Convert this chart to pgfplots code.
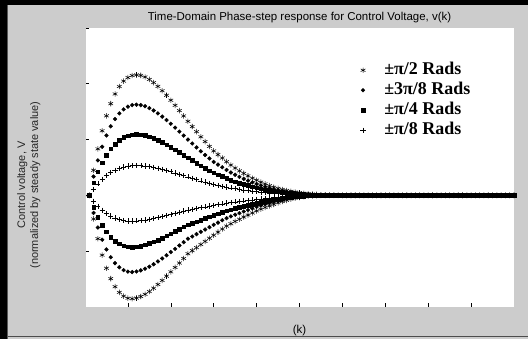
\documentclass[border=0pt]{standalone}
\usepackage{pgfplots}
\pgfplotsset{compat=1.18}
\usepackage{pgfplotstable}
\usepackage{fontspec}
\setmainfont{Liberation Sans}
\newfontfamily\legfont{Liberation Serif}

\pgfplotstableread{
k su cu qu pu sl cl ql pl
1 1 1 1 1 1 1 1 1
2 1.00225 1.00169 1.00114 1.00056 0.99789 0.99843 0.99894 0.99948
3 1.00417 1.00314 1.00211 1.00104 0.99612 0.99712 0.99806 0.99904
4 1.00579 1.00436 1.00293 1.00144 0.99465 0.99603 0.99733 0.99867
5 1.00713 1.00537 1.00361 1.00178 0.99347 0.99516 0.99674 0.99838
6 1.00822 1.00619 1.00417 1.00205 0.99254 0.99446 0.99627 0.99815
7 1.00909 1.00684 1.00461 1.00226 0.99182 0.99393 0.99591 0.99797
8 1.00976 1.00735 1.00494 1.00243 0.99131 0.99356 0.99566 0.99784
9 1.01024 1.00771 1.00519 1.00255 0.99097 0.99330 0.99549 0.99776
10 1.01056 1.00795 1.00535 1.00263 0.99079 0.99317 0.99539 0.99771
11 1.01074 1.00809 1.00544 1.00268 0.99074 0.99313 0.99537 0.99770
12 1.01080 1.00813 1.00547 1.00269 0.99080 0.99318 0.99540 0.99772
13 1.01075 1.00809 1.00545 1.00268 0.99094 0.99328 0.99547 0.99775
14 1.01061 1.00799 1.00537 1.00264 0.99114 0.99343 0.99557 0.99780
15 1.01039 1.00782 1.00526 1.00259 0.99139 0.99361 0.99569 0.99786
16 1.01011 1.00761 1.00512 1.00252 0.99168 0.99383 0.99584 0.99793
17 1.00977 1.00735 1.00495 1.00243 0.99202 0.99408 0.99601 0.99802
18 1.00938 1.00706 1.00475 1.00234 0.99238 0.99435 0.99619 0.99811
19 1.00897 1.00675 1.00454 1.00223 0.99276 0.99463 0.99638 0.99820
20 1.00853 1.00642 1.00432 1.00212 0.99315 0.99492 0.99657 0.99830
21 1.00807 1.00607 1.00409 1.00201 0.99355 0.99521 0.99677 0.99840
22 1.00760 1.00572 1.00385 1.00189 0.99394 0.99551 0.99697 0.99850
23 1.00712 1.00536 1.00361 1.00177 0.99435 0.99581 0.99718 0.99860
24 1.00664 1.00500 1.00337 1.00166 0.99477 0.99612 0.99738 0.99870
25 1.00617 1.00465 1.00313 1.00154 0.99505 0.99632 0.99752 0.99877
26 1.00571 1.00430 1.00289 1.00142 0.99532 0.99653 0.99766 0.99884
27 1.00525 1.00395 1.00266 1.00131 0.99560 0.99674 0.99780 0.99891
28 1.00482 1.00362 1.00244 1.00120 0.99588 0.99694 0.99794 0.99898
29 1.00439 1.00331 1.00222 1.00109 0.99616 0.99715 0.99808 0.99905
30 1.00399 1.00300 1.00202 1.00099 0.99643 0.99736 0.99822 0.99911
31 1.00366 1.00276 1.00185 1.00091 0.99671 0.99756 0.99836 0.99918
32 1.00335 1.00252 1.00170 1.00083 0.99699 0.99777 0.99850 0.99925
33 1.00302 1.00228 1.00153 1.00075 0.99725 0.99796 0.99862 0.99932
34 1.00272 1.00205 1.00138 1.00068 0.99746 0.99812 0.99873 0.99937
35 1.00245 1.00185 1.00124 1.00061 0.99767 0.99827 0.99883 0.99942
36 1.00220 1.00166 1.00112 1.00055 0.99786 0.99841 0.99893 0.99947
37 1.00197 1.00148 1.00100 1.00049 0.99806 0.99856 0.99903 0.99952
38 1.00175 1.00132 1.00089 1.00044 0.99824 0.99869 0.99912 0.99956
39 1.00154 1.00116 1.00078 1.00038 0.99843 0.99883 0.99921 0.99961
40 1.00136 1.00102 1.00069 1.00034 0.99861 0.99897 0.99931 0.99966
41 1.00119 1.00089 1.00060 1.00030 0.99877 0.99909 0.99938 0.99969
42 1.00103 1.00077 1.00052 1.00026 0.99892 0.99920 0.99946 0.99973
43 1.00087 1.00066 1.00044 1.00022 0.99906 0.99931 0.99953 0.99977
44 1.00073 1.00055 1.00037 1.00018 0.99920 0.99941 0.99960 0.99980
45 1.00063 1.00047 1.00032 1.00016 0.99933 0.99951 0.99967 0.99983
46 1.00053 1.00040 1.00027 1.00013 0.99945 0.99959 0.99973 0.99986
47 1.00044 1.00033 1.00022 1.00011 0.99956 0.99968 0.99978 0.99989
48 1.00037 1.00028 1.00019 1.00009 0.99967 0.99975 0.99983 0.99992
49 1.00030 1.00023 1.00015 1.00008 0.99975 0.99981 0.99987 0.99994
50 1.00024 1.00018 1.00012 1.00006 0.99982 0.99987 0.99991 0.99996
51 1.00019 1.00015 1.00010 1.00005 0.99988 0.99991 0.99994 0.99997
52 1.00015 1.00011 1.00008 1.00004 0.99993 0.99995 0.99996 0.99998
53 1.00012 1.00009 1.00006 1.00003 0.99995 0.99997 0.99998 0.99999
54 1.00009 1.00007 1.00004 1.00002 0.99997 0.99998 0.99999 0.99999
55 1.00006 1.00005 1.00003 1.00002 0.99999 0.99999 1 1
56 1.00004 1.00003 1.00002 1.00001 1 1 1 1
57 1.00003 1.00002 1.00002 1.00001 1 1 1 1
58 1.00002 1.00002 1.00001 1.00001 1 1 1 1
59 1.00001 1.00001 1.00001 1 1 1 1 1
60 1 1 1 1 1 1 1 1
61 1 1 1 1 1 1 1 1
62 1 1 1 1 1 1 1 1
63 1 1 1 1 1 1 1 1
64 1 1 1 1 1 1 1 1
65 1 1 1 1 1 1 1 1
66 1 1 1 1 1 1 1 1
67 1 1 1 1 1 1 1 1
68 1 1 1 1 1 1 1 1
69 1 1 1 1 1 1 1 1
70 1 1 1 1 1 1 1 1
71 1 1 1 1 1 1 1 1
72 1 1 1 1 1 1 1 1
73 1 1 1 1 1 1 1 1
74 1 1 1 1 1 1 1 1
75 1 1 1 1 1 1 1 1
76 1 1 1 1 1 1 1 1
77 1 1 1 1 1 1 1 1
78 1 1 1 1 1 1 1 1
79 1 1 1 1 1 1 1 1
80 1 1 1 1 1 1 1 1
81 1 1 1 1 1 1 1 1
82 1 1 1 1 1 1 1 1
83 1 1 1 1 1 1 1 1
84 1 1 1 1 1 1 1 1
85 1 1 1 1 1 1 1 1
86 1 1 1 1 1 1 1 1
87 1 1 1 1 1 1 1 1
88 1 1 1 1 1 1 1 1
89 1 1 1 1 1 1 1 1
90 1 1 1 1 1 1 1 1
91 1 1 1 1 1 1 1 1
92 1 1 1 1 1 1 1 1
93 1 1 1 1 1 1 1 1
94 1 1 1 1 1 1 1 1
95 1 1 1 1 1 1 1 1
96 1 1 1 1 1 1 1 1
97 1 1 1 1 1 1 1 1
98 1 1 1 1 1 1 1 1
99 1 1 1 1 1 1 1 1
100 1 1 1 1 1 1 1 1
}\data

\pgfplotsset{myleg/.style={legend image code/.code={\draw[##1] plot coordinates {(0bp,0bp)}; \path (21bp,0bp) (-3bp,0bp);}}}

\begin{document}
\begin{tikzpicture}
\useasboundingbox (0,0) rectangle (528bp,339bp);
\begin{axis}[
  at={(85bp,32bp)}, anchor=south west,
  width=429bp, height=279bp, scale only axis,
  xmin=0, xmax=100, ymin=0.99, ymax=1.015,
  axis background/.style={fill=white},
  clip=false,
  axis x line*=bottom, axis y line*=left,
  axis line style={black, line width=0.7bp},
  xtick={0,10,...,100},
  ytick={0.99,0.995,1,1.005,1.01,1.015},
  yticklabels={0.99,0.995,1,1.005,1.01,1.015},
  xtick pos=lower, ytick pos=left,
  tick align=inside, major tick length=4bp,
  tick style={black, line width=0.6bp},
  /pgf/number format/assume math mode=true,
  tick label style={font=\fontsize{11.5}{13}\selectfont, text=black!85},
  xticklabel style={anchor=base, yshift=-13bp},
  yticklabel style={xshift=-1.5bp},
  title={Time-Domain Phase-step response for Control Voltage, v(k)},
  title style={at={(axis description cs:0.5,1)}, anchor=base, yshift=1.3bp, font=\fontsize{11.5}{13}\selectfont},
  xlabel={(k)},
  xlabel style={at={(axis description cs:0.5,0)}, anchor=base, yshift=-26.5bp, font=\fontsize{11.5}{13}\selectfont},
  ylabel={Control voltage, V\\(normalized by steady state value)},
  ylabel style={at={(axis description cs:-0.131,0.437)}, anchor=center, align=center, font=\fontsize{11}{13}\selectfont, text=black!85},
  legend style={draw=none, inner sep=0pt,
    at={(axis description cs:0.640,0.878)}, anchor=north west,
    font=\legfont\fontsize{18}{20}\selectfont\bfseries,
    nodes={inner sep=0pt, text height=12bp, text depth=4bp},
    row sep=4bp},
  legend cell align=left,
]
% grey figure background and dark window frame, round the axes box
\fill[black!20] (rel axis cs:-0.18182,-0.11470) rectangle (rel axis cs:1.03263,0.00179);
\fill[black!20] (rel axis cs:-0.18182,0.99821) rectangle (rel axis cs:1.03263,1.08244);
\fill[black!20] (rel axis cs:-0.18182,0) rectangle (rel axis cs:0.00117,1);
\fill[black!20] (rel axis cs:0.99883,0) rectangle (rel axis cs:1.03263,1);
\fill[black] (rel axis cs:-0.19814,-0.11470) rectangle (rel axis cs:-0.18182,1.10036);
\fill[black] (rel axis cs:-0.18182,1.08244) rectangle (rel axis cs:1.03263,1.10036);
\fill[black!65] (rel axis cs:-0.18182,-0.11470) rectangle (rel axis cs:-0.17949,1.08244);
\fill[black!70] (rel axis cs:-0.17949,-0.10932) rectangle (rel axis cs:1.03263,-0.10573);
\addplot[only marks, mark=asterisk, mark size=2.7bp, line width=0.55bp, black, myleg] table[x=k, y=su] {\data};
\addlegendentry{±π/2 Rads}
\addplot[only marks, mark=asterisk, mark size=2.7bp, line width=0.55bp, black, forget plot] table[x=k, y=sl] {\data};
\addplot[only marks, mark=*, mark size=1.9bp, black, myleg] table[x=k, y=cu] {\data};
\addlegendentry{±3π/8 Rads}
\addplot[only marks, mark=*, mark size=1.9bp, black, forget plot] table[x=k, y=cl] {\data};
\addplot[only marks, mark=square*, mark size=1.8bp, black, myleg] table[x=k, y=qu] {\data};
\addlegendentry{±π/4 Rads}
\addplot[only marks, mark=square*, mark size=1.8bp, black, forget plot] table[x=k, y=ql] {\data};
\addplot[only marks, mark=+, mark size=2.6bp, line width=0.5bp, black, myleg] table[x=k, y=pu] {\data};
\addlegendentry{±π/8 Rads}
\addplot[only marks, mark=+, mark size=2.6bp, line width=0.5bp, black, forget plot] table[x=k, y=pl] {\data};
\end{axis}
\end{tikzpicture}
\end{document}
